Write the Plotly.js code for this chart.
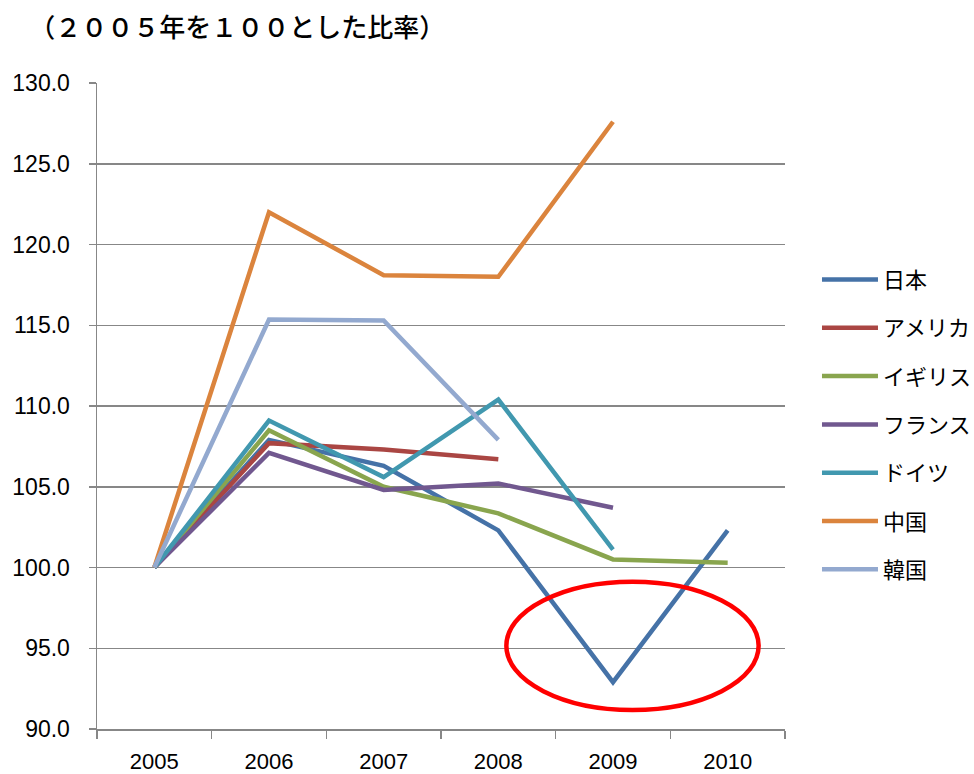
<!DOCTYPE html>
<html>
<head>
<meta charset="utf-8">
<script src="https://cdn.plot.ly/plotly-3.0.1.min.js"></script>
<style>html,body{margin:0;padding:0;background:#fff;}#chart{width:974px;height:774px;}</style>
</head>
<body>
<div id="chart"></div>
<script>
const years = ['2005', '2006', '2007', '2008', '2009', '2010'];
const seriesNames = ['日本', 'アメリカ', 'イギリス', 'フランス', 'ドイツ', '中国', '韓国'];
const japan   = [100, 107.9, 106.3, 102.3, 92.9, 102.3];
const usa     = [100, 107.7, 107.3, 106.7, null, null];
const uk      = [100, 108.5, 105.0, 103.35, 100.5, 100.3];
const france  = [100, 107.1, 104.8, 105.2, 103.7, null];
const germany = [100, 109.1, 105.6, 110.4, 101.1, null];
const china   = [100, 122.0, 118.1, 118.0, 127.6, null];
const korea   = [100, 115.35, 115.3, 107.9, null, null];
const yTicks  = [90, 95, 100, 105, 110, 115, 120, 125, 130];

const seriesValues = [japan, usa, uk, france, germany, china, korea];
const colors = ['#4572A7', '#AA4643', '#89A54E', '#71588F', '#4198AF', '#DB843D', '#93A9CF'];

const traces = seriesNames.map((n, i) => ({
  type: 'scatter', mode: 'lines', name: n, x: years, y: seriesValues[i],
  legendgroup: 'g' + i,
  line: {color: colors[i], width: 4.5},
  hoverinfo: 'skip'
}));

const gridCol = '#878787';
const layout = {
  width: 974, height: 774,
  margin: {l: 97, r: 189, t: 83, b: 45, autoexpand: false},
  paper_bgcolor: '#fff', plot_bgcolor: '#fff',
  title: {
    text: '（２００５年を１００とした比率）',
    font: {family: 'Noto Sans CJK JP', size: 26, color: '#000', weight: 500},
    xref: 'container', yref: 'container', x: 0.03, xanchor: 'left', y: 0.964, yanchor: 'middle'
  },
  xaxis: {
    type: 'category', range: [-0.5, 5.5],
    showgrid: false, showline: true, linecolor: gridCol, linewidth: 1.5,
    ticks: 'outside', tickson: 'boundaries', ticklen: 8, tickcolor: gridCol, tickwidth: 1.5,
    tickfont: {family: 'Liberation Sans, Arial, sans-serif', size: 22, color: '#000'},
    ticklabelstandoff: 12,
    fixedrange: true
  },
  yaxis: {
    range: [90, 130], tickvals: yTicks, tickformat: '.1f',
    showgrid: true, gridcolor: gridCol, gridwidth: 1.5,
    showline: true, linecolor: gridCol, linewidth: 1.5,
    ticks: 'outside', ticklen: 7, tickcolor: gridCol, tickwidth: 1.5,
    tickfont: {family: 'Liberation Sans, Arial, sans-serif', size: 23, color: '#000'},
    ticklabelstandoff: 14,
    zeroline: false, fixedrange: true
  },
  showlegend: true,
  legend: {
    x: 1.0465, xanchor: 'left', y: 0.728, yanchor: 'top',
    font: {family: 'Noto Sans CJK JP', size: 22, color: '#000'},
    itemwidth: 56, tracegroupgap: 16.7, traceorder: 'grouped',
    bgcolor: 'rgba(0,0,0,0)', borderwidth: 0
  },
  shapes: [{
    type: 'circle', xref: 'x', yref: 'y',
    x0: 3.07, x1: 5.27, y0: 91.18, y1: 99.12,
    line: {color: '#FF0000', width: 4.5}, fillcolor: 'rgba(0,0,0,0)'
  }],
  hovermode: false
};

Plotly.newPlot('chart', traces, layout, {displayModeBar: false, staticPlot: true});
</script>
</body>
</html>
